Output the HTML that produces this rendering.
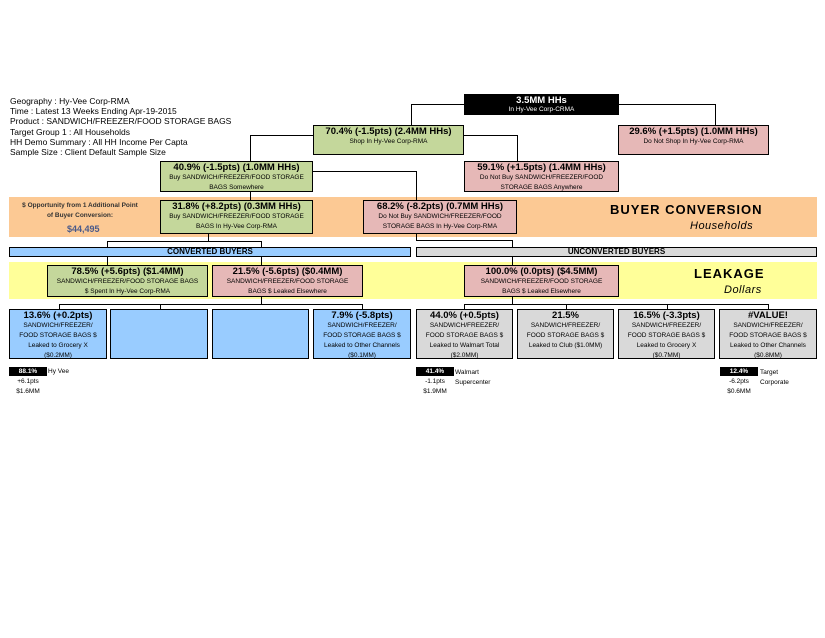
<!DOCTYPE html>
<html><head><meta charset="utf-8"><style>
*{margin:0;padding:0;box-sizing:border-box}
body{width:825px;height:638px;background:#fff;position:relative;font-family:"Liberation Sans",Arial,sans-serif;overflow:hidden}
.a{position:absolute}
.b{position:absolute;border:1.5px solid #000;text-align:center;color:#000;line-height:1}
.g{background:#c4d79b}.p{background:#e6b8b7}.bl{background:#99ccff}.gr{background:#d9d9d9}
.h{font-size:9.5px;font-weight:bold;margin-top:1px}
.s{font-size:6.5px;line-height:10px}
.sl{font-size:6.5px;line-height:10px}
.info{font-size:8.5px;line-height:10.2px;left:10px;top:96px}
.ln{position:absolute;background:#000}
</style></head><body>
<div class="a info">Geography : Hy-Vee Corp-RMA<br>Time : Latest 13 Weeks Ending Apr-19-2015<br>Product : SANDWICH/FREEZER/FOOD STORAGE BAGS<br>Target Group 1 : All Households<br>HH Demo Summary : All HH Income Per Capta<br>Sample Size : Client Default Sample Size</div>

<div class="a" style="left:9px;top:197px;width:808px;height:40px;background:#fcc994"></div>
<div class="a" style="left:9px;top:262px;width:808px;height:37px;background:#ffff99"></div>

<!-- connectors -->
<div class="ln" style="left:411px;top:104px;width:53px;height:1px"></div>
<div class="ln" style="left:411px;top:104px;width:1px;height:21px"></div>
<div class="ln" style="left:619px;top:104px;width:96px;height:1px"></div>
<div class="ln" style="left:715px;top:104px;width:1px;height:21px"></div>
<div class="ln" style="left:250px;top:135px;width:63px;height:1px"></div>
<div class="ln" style="left:250px;top:135px;width:1px;height:26px"></div>
<div class="ln" style="left:464px;top:135px;width:53px;height:1px"></div>
<div class="ln" style="left:517px;top:135px;width:1px;height:26px"></div>
<div class="ln" style="left:313px;top:171px;width:103px;height:1px"></div>
<div class="ln" style="left:416px;top:171px;width:1px;height:29px"></div>
<div class="ln" style="left:250px;top:192px;width:1px;height:8px"></div>
<div class="ln" style="left:208px;top:234px;width:1px;height:8px"></div>
<div class="ln" style="left:107px;top:241px;width:154px;height:1px"></div>
<div class="ln" style="left:107px;top:241px;width:1px;height:24px"></div>
<div class="ln" style="left:261px;top:241px;width:1px;height:24px"></div>
<div class="ln" style="left:416px;top:234px;width:1px;height:6px"></div>
<div class="ln" style="left:416px;top:240px;width:97px;height:1px"></div>
<div class="ln" style="left:512px;top:240px;width:1px;height:25px"></div>
<div class="ln" style="left:261px;top:297px;width:1px;height:7px"></div>
<div class="ln" style="left:59px;top:304px;width:304px;height:1px"></div>
<div class="ln" style="left:59px;top:304px;width:1px;height:5px"></div>
<div class="ln" style="left:160px;top:304px;width:1px;height:5px"></div>
<div class="ln" style="left:362px;top:304px;width:1px;height:5px"></div>
<div class="ln" style="left:512px;top:297px;width:1px;height:7px"></div>
<div class="ln" style="left:464px;top:304px;width:305px;height:1px"></div>
<div class="ln" style="left:464px;top:304px;width:1px;height:5px"></div>
<div class="ln" style="left:566px;top:304px;width:1px;height:5px"></div>
<div class="ln" style="left:667px;top:304px;width:1px;height:5px"></div>
<div class="ln" style="left:768px;top:304px;width:1px;height:5px"></div>

<!-- boxes -->
<div class="b" style="left:464px;top:94px;width:155px;height:21px;background:#000;color:#fff"><div class="h" style="color:#fff">3.5MM HHs</div><div class="s" style="line-height:8px">In Hy-Vee Corp-CRMA</div></div>
<div class="b g" style="left:313px;top:125px;width:151px;height:30px"><div class="h">70.4% (-1.5pts) (2.4MM HHs)</div><div class="s">Shop In Hy-Vee Corp-RMA</div></div>
<div class="b p" style="left:618px;top:125px;width:151px;height:30px"><div class="h">29.6% (+1.5pts) (1.0MM HHs)</div><div class="s">Do Not Shop In Hy-Vee Corp-RMA</div></div>
<div class="b g" style="left:160px;top:161px;width:153px;height:31px"><div class="h">40.9% (-1.5pts) (1.0MM HHs)</div><div class="s">Buy SANDWICH/FREEZER/FOOD STORAGE<br>BAGS Somewhere</div></div>
<div class="b p" style="left:464px;top:161px;width:155px;height:31px"><div class="h">59.1% (+1.5pts) (1.4MM HHs)</div><div class="s">Do Not Buy SANDWICH/FREEZER/FOOD<br>STORAGE BAGS Anywhere</div></div>
<div class="b g" style="left:160px;top:200px;width:153px;height:34px"><div class="h">31.8% (+8.2pts) (0.3MM HHs)</div><div class="s">Buy SANDWICH/FREEZER/FOOD STORAGE<br>BAGS In Hy-Vee Corp-RMA</div></div>
<div class="b p" style="left:363px;top:200px;width:154px;height:34px"><div class="h">68.2% (-8.2pts) (0.7MM HHs)</div><div class="s">Do Not Buy SANDWICH/FREEZER/FOOD<br>STORAGE BAGS In Hy-Vee Corp-RMA</div></div>

<div class="a" style="left:5px;top:201px;width:150px;text-align:center;font-size:6.5px;font-weight:bold;line-height:10px;color:#333;white-space:nowrap">$ Opportunity from 1 Additional Point<br>of Buyer Conversion:</div>
<div class="a" style="left:67px;top:224px;font-size:9px;font-weight:bold;color:#4a5a8a">$44,495</div>
<div class="a" style="left:610px;top:202px;font-size:13px;font-weight:bold;letter-spacing:1px">BUYER CONVERSION</div>
<div class="a" style="left:690px;top:220px;font-size:11px;font-style:italic;letter-spacing:0.5px">Households</div>

<div class="b bl" style="left:9px;top:247px;width:402px;height:10px;font-size:8px;font-weight:bold;line-height:8px">CONVERTED BUYERS</div>
<div class="b gr" style="left:416px;top:247px;width:401px;height:10px;font-size:8px;font-weight:bold;line-height:8px">UNCONVERTED BUYERS</div>

<div class="b g" style="left:47px;top:265px;width:161px;height:32px"><div class="h">78.5% (+5.6pts) ($1.4MM)</div><div class="s">SANDWICH/FREEZER/FOOD STORAGE BAGS<br>$ Spent In Hy-Vee Corp-RMA</div></div>
<div class="b p" style="left:212px;top:265px;width:151px;height:32px"><div class="h">21.5% (-5.6pts) ($0.4MM)</div><div class="s">SANDWICH/FREEZER/FOOD STORAGE<br>BAGS $ Leaked Elsewhere</div></div>
<div class="b p" style="left:464px;top:265px;width:155px;height:32px"><div class="h">100.0% (0.0pts) ($4.5MM)</div><div class="s">SANDWICH/FREEZER/FOOD STORAGE<br>BAGS $ Leaked Elsewhere</div></div>
<div class="a" style="left:694px;top:266px;font-size:13px;font-weight:bold;letter-spacing:1px">LEAKAGE</div>
<div class="a" style="left:724px;top:284px;font-size:11px;font-style:italic;letter-spacing:0.5px">Dollars</div>

<div class="b bl" style="left:9px;top:309px;width:98px;height:50px"><div class="h">13.6% (+0.2pts)</div><div class="sl">SANDWICH/FREEZER/<br>FOOD STORAGE BAGS $<br>Leaked to Grocery X<br>($0.2MM)</div></div>
<div class="b bl" style="left:110px;top:309px;width:98px;height:50px"></div>
<div class="b bl" style="left:212px;top:309px;width:97px;height:50px"></div>
<div class="b bl" style="left:313px;top:309px;width:98px;height:50px"><div class="h">7.9% (-5.8pts)</div><div class="sl">SANDWICH/FREEZER/<br>FOOD STORAGE BAGS $<br>Leaked to Other Channels<br>($0.1MM)</div></div>
<div class="b gr" style="left:416px;top:309px;width:97px;height:50px"><div class="h">44.0% (+0.5pts)</div><div class="sl">SANDWICH/FREEZER/<br>FOOD STORAGE BAGS $<br>Leaked to Walmart Total<br>($2.0MM)</div></div>
<div class="b gr" style="left:517px;top:309px;width:97px;height:50px"><div class="h">21.5%</div><div class="sl">SANDWICH/FREEZER/<br>FOOD STORAGE BAGS $<br>Leaked to Club ($1.0MM)</div></div>
<div class="b gr" style="left:618px;top:309px;width:97px;height:50px"><div class="h">16.5% (-3.3pts)</div><div class="sl">SANDWICH/FREEZER/<br>FOOD STORAGE BAGS $<br>Leaked to Grocery X<br>($0.7MM)</div></div>
<div class="b gr" style="left:719px;top:309px;width:98px;height:50px"><div class="h">#VALUE!</div><div class="sl">SANDWICH/FREEZER/<br>FOOD STORAGE BAGS $<br>Leaked to Other Channels<br>($0.8MM)</div></div>

<!-- footers -->
<div class="a" style="left:9px;top:367px;width:38px;height:9px;background:#000;color:#fff;font-size:6.5px;font-weight:bold;text-align:center;line-height:9px">88.1%</div>
<div class="a" style="left:48px;top:368px;font-size:6.5px">Hy Vee</div>
<div class="a" style="left:9px;top:377px;width:38px;text-align:center;font-size:6.5px;line-height:9.5px">+6.1pts<br>$1.6MM</div>

<div class="a" style="left:416px;top:367px;width:38px;height:9px;background:#000;color:#fff;font-size:6.5px;font-weight:bold;text-align:center;line-height:9px">41.4%</div>
<div class="a" style="left:455px;top:368px;font-size:6.5px;line-height:10px">Walmart<br>Supercenter</div>
<div class="a" style="left:416px;top:377px;width:38px;text-align:center;font-size:6.5px;line-height:9.5px">-1.1pts<br>$1.9MM</div>

<div class="a" style="left:720px;top:367px;width:38px;height:9px;background:#000;color:#fff;font-size:6.5px;font-weight:bold;text-align:center;line-height:9px">12.4%</div>
<div class="a" style="left:760px;top:368px;font-size:6.5px;line-height:10px">Target<br>Corporate</div>
<div class="a" style="left:720px;top:377px;width:38px;text-align:center;font-size:6.5px;line-height:9.5px">-6.2pts<br>$0.6MM</div>
</body></html>
